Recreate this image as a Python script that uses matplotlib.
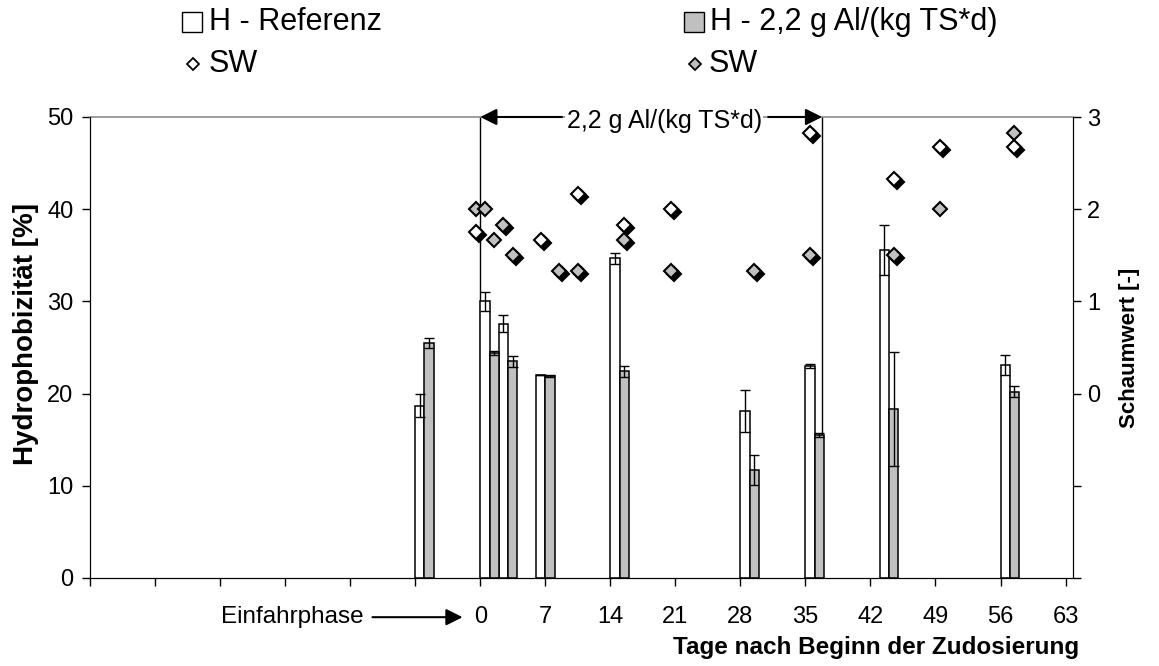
import matplotlib
matplotlib.use('Agg')
import matplotlib.pyplot as plt
from matplotlib.patches import Rectangle
from matplotlib.lines import Line2D
from matplotlib.transforms import offset_copy

plt.rcParams['font.family'] = ['Liberation Sans', 'DejaVu Sans']

# Hydrophobizitaet (bars): left edge day, value, error
tage_ref = [-7, 0, 2, 6, 14, 28, 35, 43, 56]
h_ref = [18.7, 30.0, 27.6, 22.0, 34.7, 18.1, 23.0, 35.6, 23.1]
h_ref_err = [1.25, 1.0, 0.95, 0.0, 0.6, 2.25, 0.2, 2.7, 1.1]

tage_al = [-6, 1, 3, 7, 15, 29, 36, 44, 57]
h_al = [25.5, 24.4, 23.5, 21.9, 22.4, 11.7, 15.5, 18.3, 20.2]
h_al_err = [0.5, 0.2, 0.6, 0.15, 0.6, 1.6, 0.2, 6.2, 0.6]

# Schaumwert (diamonds), shadow = 1 if drawn with black shadow
sw_ref_x = [-0.5, 6.5, 10.5, 15.5, 20.5, 35.5, 44.5, 49.5, 57.5]
sw_ref = [1.75, 1.67, 2.17, 1.83, 2.0, 2.83, 2.33, 2.67, 2.67]
sw_ref_shadow = [1, 1, 1, 1, 1, 1, 1, 1, 1]

sw_al_x = [-0.5, 0.5, 1.5, 2.5, 3.5, 8.5, 10.5, 15.5, 20.5, 29.5, 35.5, 44.5, 49.5, 57.5]
sw_al = [2.0, 2.0, 1.67, 1.83, 1.5, 1.33, 1.33, 1.67, 1.33, 1.33, 1.5, 1.5, 2.0, 2.83]
sw_al_shadow = [0, 0, 0, 1, 1, 1, 1, 1, 1, 1, 1, 1, 0, 0]

xticks = list(range(-42, 64, 7))
xticklabels = [str(t) if t >= 0 else '' for t in xticks]

grau = '#c0c0c0'
W, H = 1159, 666

fig = plt.figure(figsize=(W / 100, H / 100), dpi=100)
ax = fig.add_axes([90 / W, 1 - 578 / H, (1073 - 90) / W, (578 - 117) / H])
ax2 = ax.twinx()

ax.bar(tage_ref, h_ref, width=1, align='edge', color='white', edgecolor='black', lw=1.1, zorder=2)
ax.bar(tage_al, h_al, width=1, align='edge', color=grau, edgecolor='black', lw=1.1, zorder=2)
ax.errorbar([t + 0.5 for t in tage_ref], h_ref, yerr=h_ref_err, fmt='none', ecolor='black',
            elinewidth=1, capsize=3.3, capthick=1, zorder=3)
ax.errorbar([t + 0.5 for t in tage_al], h_al, yerr=h_al_err, fmt='none', ecolor='black',
            elinewidth=1, capsize=3.3, capthick=1, zorder=3)

# Dosierzeitraum
ax.axvline(0, color='black', lw=1, zorder=1)
ax.axvline(36.8, color='black', lw=1, zorder=1)

ax.set_xlim(-42, 63.8)
ax.set_ylim(0, 50)
ax.set_yticks(range(0, 51, 10))
ax.set_xticks(xticks)
ax.set_xticklabels(xticklabels)
ax.tick_params(axis='x', direction='out', length=6, width=1, labelsize=17, pad=14)
ax.tick_params(axis='y', direction='out', length=6, width=1, labelsize=17, pad=6)
ax.set_ylabel('Hydrophobizität [%]', fontsize=20, fontweight='bold')
ax.yaxis.set_label_coords(-0.052, 0.53)
ax.set_xlabel('Tage nach Beginn der Zudosierung', fontsize=17.5, fontweight='bold')
ax.xaxis.set_label_coords(0.80, -0.125)

ax2.set_ylim(-2, 3)
ax2.set_yticks(range(-2, 4))
ax2.set_yticklabels(['', '', '0', '1', '2', '3'])
ax2.tick_params(axis='y', direction='out', length=6, width=1, labelsize=17, pad=4)
ax2.set_ylabel('Schaumwert [-]', fontsize=16, fontweight='bold')
ax2.yaxis.set_label_coords(1.047, 0.5)

# obere Rahmenlinie grau, nur einmal (unter dem Pfeiltext)
ax.spines['top'].set_color('#8c8c8c')
ax.spines['top'].set_linewidth(1.2)
ax2.spines['top'].set_visible(False)

# Schatten der Rauten
schatten = offset_copy(ax2.transData, fig=fig, x=3, y=-3, units='dots')
sx = [x for x, s in zip(sw_ref_x, sw_ref_shadow) if s] + [x for x, s in zip(sw_al_x, sw_al_shadow) if s]
sy = [y for y, s in zip(sw_ref, sw_ref_shadow) if s] + [y for y, s in zip(sw_al, sw_al_shadow) if s]
ax2.plot(sx, sy, 'D', ms=7, mfc='black', mec='black', mew=1.5, transform=schatten, zorder=4)
ax2.plot(sw_al_x, sw_al, 'D', ms=7, mfc=grau, mec='black', mew=1.5, zorder=5)
ax2.plot(sw_ref_x, sw_ref, 'D', ms=7, mfc='white', mec='black', mew=1.5, zorder=5)

# Pfeil oben: Zudosierung
pfeil = dict(arrowstyle='-|>', color='black', lw=1.5, mutation_scale=25, shrinkA=0, shrinkB=0)
ax.annotate('', xy=(0, 50), xytext=(8.8, 50), arrowprops=pfeil, annotation_clip=False, zorder=6)
ax.annotate('', xy=(36.8, 50), xytext=(31.0, 50), arrowprops=pfeil, annotation_clip=False, zorder=6)
ax.text(19.8, 49.6, '2,2 g Al/(kg TS*d)', fontsize=18, ha='center', va='center', zorder=7,
        bbox=dict(facecolor='white', edgecolor='none', pad=1))

# Einfahrphase
ax.annotate('', xy=(-1.9, -0.085), xytext=(-11.6, -0.085), xycoords=('data', 'axes fraction'),
            arrowprops=pfeil, annotation_clip=False)
ax.text(-12.6, -0.085, 'Einfahrphase', transform=ax.get_xaxis_transform(), fontsize=17.5,
        ha='right', va='center')

# Legende
def fx(px):
    return px / W

def fy(py):
    return 1 - py / H

fig.add_artist(Rectangle((fx(182), fy(32)), 20 / W, 20 / H, facecolor='white', edgecolor='black', lw=1))
fig.add_artist(Rectangle((fx(684), fy(32)), 20 / W, 20 / H, facecolor=grau, edgecolor='black', lw=1))
fig.add_artist(Line2D([fx(193)], [fy(64)], marker='D', ms=6.5, mfc='white', mec='black', mew=1.3))
fig.add_artist(Line2D([fx(695)], [fy(64)], marker='D', ms=6.5, mfc=grau, mec='black', mew=1.3))
fig.text(fx(209), fy(22), 'H - Referenz', fontsize=22, va='center')
fig.text(fx(710), fy(22), 'H - 2,2 g Al/(kg TS*d)', fontsize=22, va='center')
fig.text(fx(209), fy(64), 'SW', fontsize=22, va='center')
fig.text(fx(709), fy(64), 'SW', fontsize=22, va='center')

fig.savefig('out.png', dpi=100)
